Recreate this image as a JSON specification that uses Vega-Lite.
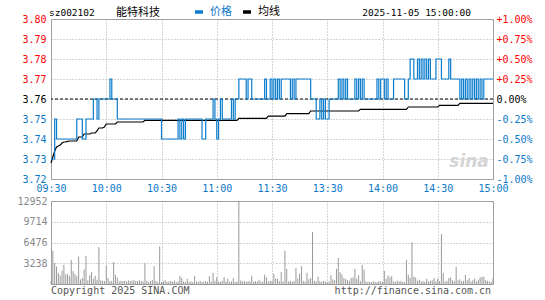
{
  "$schema": "https://vega.github.io/schema/vega-lite/v6.json",
  "background": "white",
  "padding": {"left": 16, "top": 5, "right": 2, "bottom": 0},
  "spacing": 1,
  "config": {
    "view": {"stroke": "#999", "strokeWidth": 1},
    "font": "DejaVu Sans Mono",
    "axis": {"labelFont": "DejaVu Sans Mono", "labelFontSize": 9.5, "ticks": false, "domain": false, "gridColor": "#aaa", "gridDash": [1, 2], "gridOpacity": 1, "title": null}
  },
  "datasets": {
    "m": [
{"i":0,"p":3.73,"a":3.728,"v":500},{"i":1,"p":3.73,"a":3.731,"v":5190},{"i":2,"p":3.75,"a":3.734,"v":3290},{"i":3,"p":3.74,"a":3.736,"v":2720},{"i":4,"p":3.74,"a":3.7365,"v":1750},{"i":5,"p":3.74,"a":3.737,"v":1340},{"i":6,"p":3.74,"a":3.738,"v":2100},{"i":7,"p":3.74,"a":3.7385,"v":2980},{"i":8,"p":3.74,"a":3.7385,"v":1490},{"i":9,"p":3.74,"a":3.7388,"v":1590},
{"i":10,"p":3.74,"a":3.739,"v":1230},{"i":11,"p":3.74,"a":3.739,"v":3750},{"i":12,"p":3.74,"a":3.739,"v":2000},{"i":13,"p":3.74,"a":3.739,"v":1540},{"i":14,"p":3.75,"a":3.739,"v":1230},{"i":15,"p":3.75,"a":3.741,"v":4270},{"i":16,"p":3.75,"a":3.741,"v":720},{"i":17,"p":3.74,"a":3.741,"v":930},{"i":18,"p":3.74,"a":3.7425,"v":2260},{"i":19,"p":3.75,"a":3.7425,"v":4370},
{"i":20,"p":3.75,"a":3.7425,"v":570},{"i":21,"p":3.75,"a":3.7425,"v":1340},{"i":22,"p":3.75,"a":3.743,"v":1850},{"i":23,"p":3.76,"a":3.743,"v":820},{"i":24,"p":3.76,"a":3.743,"v":1290},{"i":25,"p":3.75,"a":3.744,"v":670},{"i":26,"p":3.76,"a":3.7455,"v":5760},{"i":27,"p":3.76,"a":3.7455,"v":570},{"i":28,"p":3.76,"a":3.7455,"v":500},{"i":29,"p":3.76,"a":3.746,"v":450},
{"i":30,"p":3.76,"a":3.7475,"v":2830},{"i":31,"p":3.76,"a":3.7475,"v":930},{"i":32,"p":3.77,"a":3.7475,"v":450},{"i":33,"p":3.76,"a":3.7475,"v":500},{"i":34,"p":3.76,"a":3.7475,"v":3440},{"i":35,"p":3.76,"a":3.7475,"v":1440},{"i":36,"p":3.75,"a":3.7485,"v":980},{"i":37,"p":3.75,"a":3.7485,"v":400},{"i":38,"p":3.75,"a":3.7485,"v":500},{"i":39,"p":3.75,"a":3.7485,"v":450},
{"i":40,"p":3.75,"a":3.7485,"v":500},{"i":41,"p":3.75,"a":3.7485,"v":400},{"i":42,"p":3.75,"a":3.7485,"v":550},{"i":43,"p":3.75,"a":3.7485,"v":450},{"i":44,"p":3.75,"a":3.7485,"v":500},{"i":45,"p":3.75,"a":3.7485,"v":600},{"i":46,"p":3.75,"a":3.7485,"v":450},{"i":47,"p":3.75,"a":3.7485,"v":500},{"i":48,"p":3.75,"a":3.7485,"v":550},{"i":49,"p":3.75,"a":3.7485,"v":450},
{"i":50,"p":3.75,"a":3.7485,"v":400},{"i":51,"p":3.75,"a":3.7493,"v":3240},{"i":52,"p":3.75,"a":3.7493,"v":500},{"i":53,"p":3.75,"a":3.7493,"v":350},{"i":54,"p":3.75,"a":3.7493,"v":450},{"i":55,"p":3.75,"a":3.7493,"v":600},{"i":56,"p":3.75,"a":3.7493,"v":2780},{"i":57,"p":3.75,"a":3.7493,"v":500},{"i":58,"p":3.75,"a":3.7493,"v":350},{"i":59,"p":3.75,"a":3.7493,"v":5860},
{"i":60,"p":3.74,"a":3.7493,"v":300},{"i":61,"p":3.74,"a":3.7493,"v":450},{"i":62,"p":3.74,"a":3.7493,"v":600},{"i":63,"p":3.74,"a":3.7493,"v":350},{"i":64,"p":3.74,"a":3.7493,"v":400},{"i":65,"p":3.74,"a":3.7493,"v":500},{"i":66,"p":3.74,"a":3.7493,"v":350},{"i":67,"p":3.74,"a":3.7493,"v":550},{"i":68,"p":3.74,"a":3.7493,"v":300},{"i":69,"p":3.75,"a":3.7493,"v":400},
{"i":70,"p":3.74,"a":3.7493,"v":1290},{"i":71,"p":3.75,"a":3.7493,"v":930},{"i":72,"p":3.74,"a":3.7493,"v":400},{"i":73,"p":3.75,"a":3.7493,"v":300},{"i":74,"p":3.75,"a":3.7493,"v":820},{"i":75,"p":3.75,"a":3.7493,"v":350},{"i":76,"p":3.75,"a":3.7493,"v":400},{"i":77,"p":3.75,"a":3.7493,"v":300},{"i":78,"p":3.75,"a":3.7493,"v":1230},{"i":79,"p":3.75,"a":3.7493,"v":400},
{"i":80,"p":3.75,"a":3.7493,"v":350},{"i":81,"p":3.75,"a":3.7493,"v":500},{"i":82,"p":3.74,"a":3.7493,"v":300},{"i":83,"p":3.74,"a":3.7493,"v":400},{"i":84,"p":3.75,"a":3.7493,"v":450},{"i":85,"p":3.75,"a":3.7493,"v":350},{"i":86,"p":3.75,"a":3.7493,"v":1230},{"i":87,"p":3.75,"a":3.7493,"v":400},{"i":88,"p":3.76,"a":3.7493,"v":1750},{"i":89,"p":3.75,"a":3.7493,"v":500},
{"i":90,"p":3.74,"a":3.7493,"v":1080},{"i":91,"p":3.75,"a":3.7493,"v":400},{"i":92,"p":3.76,"a":3.7493,"v":350},{"i":93,"p":3.75,"a":3.7493,"v":500},{"i":94,"p":3.75,"a":3.7493,"v":1080},{"i":95,"p":3.75,"a":3.7493,"v":400},{"i":96,"p":3.75,"a":3.7493,"v":820},{"i":97,"p":3.75,"a":3.7493,"v":350},{"i":98,"p":3.76,"a":3.7493,"v":400},{"i":99,"p":3.75,"a":3.7493,"v":930},
{"i":100,"p":3.76,"a":3.7493,"v":300},{"i":101,"p":3.76,"a":3.7493,"v":400},{"i":102,"p":3.77,"a":3.7503,"v":12952},{"i":103,"p":3.77,"a":3.7503,"v":550},{"i":104,"p":3.77,"a":3.7503,"v":400},{"i":105,"p":3.77,"a":3.7503,"v":500},{"i":106,"p":3.76,"a":3.7503,"v":350},{"i":107,"p":3.77,"a":3.7503,"v":450},{"i":108,"p":3.77,"a":3.7503,"v":400},{"i":109,"p":3.76,"a":3.7503,"v":1290},
{"i":110,"p":3.76,"a":3.7503,"v":350},{"i":111,"p":3.76,"a":3.7503,"v":450},{"i":112,"p":3.76,"a":3.7503,"v":400},{"i":113,"p":3.76,"a":3.7503,"v":670},{"i":114,"p":3.76,"a":3.7503,"v":350},{"i":115,"p":3.76,"a":3.7503,"v":400},{"i":116,"p":3.77,"a":3.7503,"v":1440},{"i":117,"p":3.76,"a":3.7503,"v":1030},{"i":118,"p":3.76,"a":3.7514,"v":400},{"i":119,"p":3.77,"a":3.7514,"v":500},
{"i":120,"p":3.76,"a":3.7514,"v":450},{"i":121,"p":3.77,"a":3.7514,"v":1590},{"i":122,"p":3.76,"a":3.7514,"v":820},{"i":123,"p":3.77,"a":3.7514,"v":820},{"i":124,"p":3.76,"a":3.7514,"v":450},{"i":125,"p":3.77,"a":3.7514,"v":1850},{"i":126,"p":3.77,"a":3.7514,"v":400},{"i":127,"p":3.77,"a":3.7514,"v":5190},{"i":128,"p":3.77,"a":3.7527,"v":2360},{"i":129,"p":3.77,"a":3.7527,"v":400},
{"i":130,"p":3.76,"a":3.7527,"v":500},{"i":131,"p":3.77,"a":3.7527,"v":350},{"i":132,"p":3.76,"a":3.7527,"v":450},{"i":133,"p":3.77,"a":3.7527,"v":2520},{"i":134,"p":3.77,"a":3.7527,"v":820},{"i":135,"p":3.77,"a":3.7527,"v":1590},{"i":136,"p":3.77,"a":3.7527,"v":2780},{"i":137,"p":3.77,"a":3.7527,"v":500},{"i":138,"p":3.77,"a":3.7527,"v":400},{"i":139,"p":3.77,"a":3.7527,"v":1750},
{"i":140,"p":3.77,"a":3.7527,"v":720},{"i":141,"p":3.76,"a":3.754,"v":930},{"i":142,"p":3.76,"a":3.754,"v":8120},{"i":143,"p":3.76,"a":3.754,"v":500},{"i":144,"p":3.75,"a":3.754,"v":400},{"i":145,"p":3.75,"a":3.754,"v":1130},{"i":146,"p":3.76,"a":3.754,"v":450},{"i":147,"p":3.75,"a":3.754,"v":350},{"i":148,"p":3.76,"a":3.754,"v":500},{"i":149,"p":3.75,"a":3.754,"v":400},
{"i":150,"p":3.75,"a":3.754,"v":300},{"i":151,"p":3.76,"a":3.754,"v":400},{"i":152,"p":3.76,"a":3.754,"v":1390},{"i":153,"p":3.76,"a":3.754,"v":720},{"i":154,"p":3.76,"a":3.754,"v":600},{"i":155,"p":3.76,"a":3.754,"v":2360},{"i":156,"p":3.77,"a":3.754,"v":4060},{"i":157,"p":3.76,"a":3.754,"v":1850},{"i":158,"p":3.77,"a":3.754,"v":1490},{"i":159,"p":3.76,"a":3.754,"v":900},
{"i":160,"p":3.77,"a":3.754,"v":820},{"i":161,"p":3.76,"a":3.754,"v":600},{"i":162,"p":3.76,"a":3.754,"v":500},{"i":163,"p":3.76,"a":3.754,"v":930},{"i":164,"p":3.76,"a":3.754,"v":1030},{"i":165,"p":3.77,"a":3.754,"v":2360},{"i":166,"p":3.76,"a":3.754,"v":820},{"i":167,"p":3.77,"a":3.754,"v":1340},{"i":168,"p":3.76,"a":3.7548,"v":450},{"i":169,"p":3.77,"a":3.7548,"v":2980},
{"i":170,"p":3.76,"a":3.7548,"v":2260},{"i":171,"p":3.76,"a":3.7548,"v":400},{"i":172,"p":3.76,"a":3.7548,"v":300},{"i":173,"p":3.76,"a":3.7548,"v":350},{"i":174,"p":3.76,"a":3.7548,"v":300},{"i":175,"p":3.76,"a":3.7548,"v":400},{"i":176,"p":3.76,"a":3.7548,"v":350},{"i":177,"p":3.77,"a":3.7548,"v":300},{"i":178,"p":3.76,"a":3.7548,"v":450},{"i":179,"p":3.77,"a":3.7548,"v":400},
{"i":180,"p":3.77,"a":3.7548,"v":350},{"i":181,"p":3.76,"a":3.7548,"v":2060},{"i":182,"p":3.77,"a":3.7548,"v":820},{"i":183,"p":3.76,"a":3.7548,"v":1340},{"i":184,"p":3.76,"a":3.7548,"v":1030},{"i":185,"p":3.76,"a":3.7548,"v":1230},{"i":186,"p":3.77,"a":3.7548,"v":400},{"i":187,"p":3.77,"a":3.7548,"v":350},{"i":188,"p":3.77,"a":3.7548,"v":500},{"i":189,"p":3.77,"a":3.7548,"v":400},
{"i":190,"p":3.77,"a":3.7548,"v":450},{"i":191,"p":3.77,"a":3.7548,"v":350},{"i":192,"p":3.76,"a":3.7548,"v":300},{"i":193,"p":3.76,"a":3.7548,"v":3750},{"i":194,"p":3.77,"a":3.756,"v":1440},{"i":195,"p":3.78,"a":3.756,"v":980},{"i":196,"p":3.78,"a":3.756,"v":6530},{"i":197,"p":3.77,"a":3.756,"v":1130},{"i":198,"p":3.77,"a":3.756,"v":1030},{"i":199,"p":3.78,"a":3.756,"v":500},
{"i":200,"p":3.77,"a":3.756,"v":670},{"i":201,"p":3.78,"a":3.756,"v":400},{"i":202,"p":3.77,"a":3.756,"v":450},{"i":203,"p":3.78,"a":3.756,"v":350},{"i":204,"p":3.77,"a":3.756,"v":820},{"i":205,"p":3.78,"a":3.756,"v":400},{"i":206,"p":3.77,"a":3.756,"v":500},{"i":207,"p":3.77,"a":3.756,"v":570},{"i":208,"p":3.77,"a":3.756,"v":930},{"i":209,"p":3.78,"a":3.756,"v":400},
{"i":210,"p":3.78,"a":3.756,"v":820},{"i":211,"p":3.78,"a":3.7568,"v":450},{"i":212,"p":3.77,"a":3.7568,"v":7760},{"i":213,"p":3.77,"a":3.7568,"v":1700},{"i":214,"p":3.77,"a":3.7568,"v":400},{"i":215,"p":3.77,"a":3.7568,"v":500},{"i":216,"p":3.78,"a":3.7568,"v":930},{"i":217,"p":3.77,"a":3.7568,"v":1030},{"i":218,"p":3.77,"a":3.7568,"v":570},{"i":219,"p":3.77,"a":3.7568,"v":450},
{"i":220,"p":3.77,"a":3.7568,"v":2670},{"i":221,"p":3.77,"a":3.7568,"v":570},{"i":222,"p":3.76,"a":3.7578,"v":720},{"i":223,"p":3.77,"a":3.7578,"v":400},{"i":224,"p":3.76,"a":3.7578,"v":500},{"i":225,"p":3.77,"a":3.7578,"v":1440},{"i":226,"p":3.76,"a":3.7578,"v":570},{"i":227,"p":3.77,"a":3.7578,"v":930},{"i":228,"p":3.76,"a":3.7578,"v":400},{"i":229,"p":3.77,"a":3.7578,"v":570},
{"i":230,"p":3.76,"a":3.7578,"v":820},{"i":231,"p":3.77,"a":3.7578,"v":400},{"i":232,"p":3.76,"a":3.7578,"v":670},{"i":233,"p":3.77,"a":3.7578,"v":1030},{"i":234,"p":3.76,"a":3.7578,"v":1130},{"i":235,"p":3.77,"a":3.7578,"v":1130},{"i":236,"p":3.77,"a":3.7578,"v":600},{"i":237,"p":3.77,"a":3.7578,"v":500},{"i":238,"p":3.77,"a":3.7578,"v":400},{"i":239,"p":3.77,"a":3.7578,"v":350},
{"i":240,"p":3.77,"a":3.7578,"v":900}
    ]
  },
  "vconcat": [
    {
      "width": 442,
      "height": 160,
      "layer": [
        {
          "data": {"values": [{}]},
          "mark": {"type": "rule", "color": "black", "strokeDash": [3, 2], "strokeWidth": 1},
          "encoding": {
            "y": {"datum": 3.76, "type": "quantitative", "scale": {"domain": [3.72, 3.80], "nice": false, "zero": false},
              "axis": {"orient": "right", "grid": false, "values": [3.72, 3.73, 3.74, 3.75, 3.76, 3.77, 3.78, 3.79, 3.80], "labelPadding": 3, "labelFontSize": 10, "labelOverlap": false,
                "labelExpr": "abs(datum.value-3.76)<0.001 ? '0.00%' : (datum.value>3.76 ? '+' : '-') + format(abs(datum.value-3.76)*25, '.2f') + '%'",
                "labelColor": {"condition": [{"test": "abs(datum.value-3.76)<0.001", "value": "#000000"}, {"test": "datum.value > 3.76", "value": "#ff0000"}], "value": "#0b78c8"}}}
          }
        },
        {
          "data": {"name": "m"},
          "mark": {"type": "line", "strokeWidth": 1.2},
          "encoding": {
            "x": {"field": "i", "type": "quantitative", "scale": {"domain": [0, 240], "nice": false, "zero": false},
              "axis": {"values": [0, 30, 60, 90, 120, 150, 180, 210, 240], "grid": true, "labelPadding": 4, "labelFlush": false, "labelFontSize": 10, "labelColor": "#0b78c8",
                "labelExpr": "['09:30','10:00','10:30','11:00','11:30','13:30','14:00','14:30','15:00'][round(datum.value/30)]"}},
            "y": {"field": "a", "type": "quantitative", "scale": {"domain": [3.72, 3.80], "nice": false, "zero": false},
              "axis": {"orient": "left", "grid": true, "values": [3.72, 3.73, 3.74, 3.75, 3.76, 3.77, 3.78, 3.79, 3.80], "labelPadding": 5, "labelFontSize": 10, "labelOverlap": false,
                "labelExpr": "format(datum.value, '.2f')",
                "labelColor": {"condition": [{"test": "abs(datum.value-3.76)<0.001", "value": "#000000"}, {"test": "datum.value > 3.76", "value": "#ff0000"}], "value": "#0b78c8"}}},
            "color": {"datum": "均线", "type": "nominal", "scale": {"domain": ["均线"], "range": ["#000000"]},
              "legend": {"orient": "none", "legendX": 190, "legendY": -13, "title": null, "symbolType": "stroke", "symbolSize": 64, "symbolStrokeWidth": 3.5,
                "labelFont": "Noto Sans CJK SC", "labelFontSize": 11, "labelOffset": 5, "padding": 0, "labelColor": "#000000"}}
          }
        },
        {
          "data": {"name": "m"},
          "mark": {"type": "line", "strokeWidth": 1.2, "interpolate": "step-after"},
          "encoding": {
            "x": {"field": "i", "type": "quantitative"},
            "y": {"field": "p", "type": "quantitative", "scale": {"domain": [3.72, 3.80], "nice": false, "zero": false}, "axis": null},
            "stroke": {"datum": "价格", "type": "nominal", "scale": {"domain": ["价格"], "range": ["#0b7dcd"]},
              "legend": {"orient": "none", "legendX": 142, "legendY": -13, "title": null, "symbolType": "stroke", "symbolSize": 64, "symbolStrokeWidth": 3.5,
                "labelFont": "Noto Sans CJK SC", "labelFontSize": 11, "labelOffset": 5, "padding": 0, "labelColor": "#0b78c8"}}
          }
        },
        {
          "data": {"values": [{}]},
          "mark": {"type": "text", "align": "left", "baseline": "middle", "font": "DejaVu Sans Mono", "fontSize": 9.5, "color": "#000"},
          "encoding": {"x": {"datum": -1.1, "type": "quantitative"}, "y": {"datum": 3.803, "type": "quantitative", "scale": {"domain": [3.72, 3.80], "nice": false, "zero": false}, "axis": null}, "text": {"value": "sz002102"}}
        },
        {
          "data": {"values": [{}]},
          "mark": {"type": "text", "align": "left", "baseline": "middle", "font": "Noto Sans CJK SC", "fontSize": 11, "color": "#000"},
          "encoding": {"x": {"datum": 35.3, "type": "quantitative"}, "y": {"datum": 3.803, "type": "quantitative", "scale": {"domain": [3.72, 3.80], "nice": false, "zero": false}, "axis": null}, "text": {"value": "能特科技"}}
        },
        {
          "data": {"values": [{}]},
          "mark": {"type": "text", "align": "right", "baseline": "middle", "font": "DejaVu Sans Mono", "fontSize": 9.5, "color": "#000"},
          "encoding": {"x": {"datum": 228, "type": "quantitative"}, "y": {"datum": 3.803, "type": "quantitative", "scale": {"domain": [3.72, 3.80], "nice": false, "zero": false}, "axis": null}, "text": {"value": "2025-11-05 15:00:00"}}
        },
        {
          "data": {"values": [{}]},
          "mark": {"type": "text", "align": "center", "baseline": "middle", "font": "DejaVu Sans", "fontSize": 17, "fontWeight": "bold", "fontStyle": "italic", "color": "#d4d4d4"},
          "encoding": {"x": {"datum": 227, "type": "quantitative"}, "y": {"datum": 3.7285, "type": "quantitative", "scale": {"domain": [3.72, 3.80], "nice": false, "zero": false}, "axis": null}, "text": {"value": "sina"}}
        }
      ],
      "resolve": {"scale": {"y": "independent", "color": "independent", "stroke": "independent"}, "legend": {"color": "independent", "stroke": "independent"}}
    },
    {
      "width": 442,
      "height": 83,
      "layer": [
        {
          "data": {"name": "m"},
          "mark": {"type": "rule", "color": "#999", "strokeWidth": 1},
          "encoding": {
            "x": {"field": "i", "type": "quantitative", "scale": {"domain": [0, 240], "nice": false, "zero": false},
              "axis": {"values": [0, 30, 60, 90, 120, 150, 180, 210, 240], "grid": true, "labels": false}},
            "y": {"field": "v", "type": "quantitative", "scale": {"domain": [0, 12952], "nice": false, "zero": true},
              "axis": {"values": [3238, 6476, 9714, 12952], "format": "d", "labelOverlap": false, "grid": true, "labelPadding": 4, "labelFontSize": 10, "labelColor": "#888"}},
            "y2": {"datum": 0}
          }
        },
        {
          "data": {"values": [{}]},
          "mark": {"type": "text", "align": "left", "baseline": "middle", "font": "DejaVu Sans Mono", "fontSize": 10, "color": "#555"},
          "encoding": {"x": {"datum": 0, "type": "quantitative"}, "y": {"datum": -1100, "type": "quantitative", "scale": {"domain": [0, 12952], "nice": false}, "axis": null}, "text": {"value": "Copyright 2025 SINA.COM"}}
        },
        {
          "data": {"values": [{}]},
          "mark": {"type": "text", "align": "right", "baseline": "middle", "font": "DejaVu Sans Mono", "fontSize": 10, "color": "#555"},
          "encoding": {"x": {"datum": 239, "type": "quantitative"}, "y": {"datum": -1100, "type": "quantitative", "scale": {"domain": [0, 12952], "nice": false}, "axis": null}, "text": {"value": "http://finance.sina.com.cn"}}
        }
      ],
      "resolve": {"scale": {"y": "independent"}}
    }
  ]
}
